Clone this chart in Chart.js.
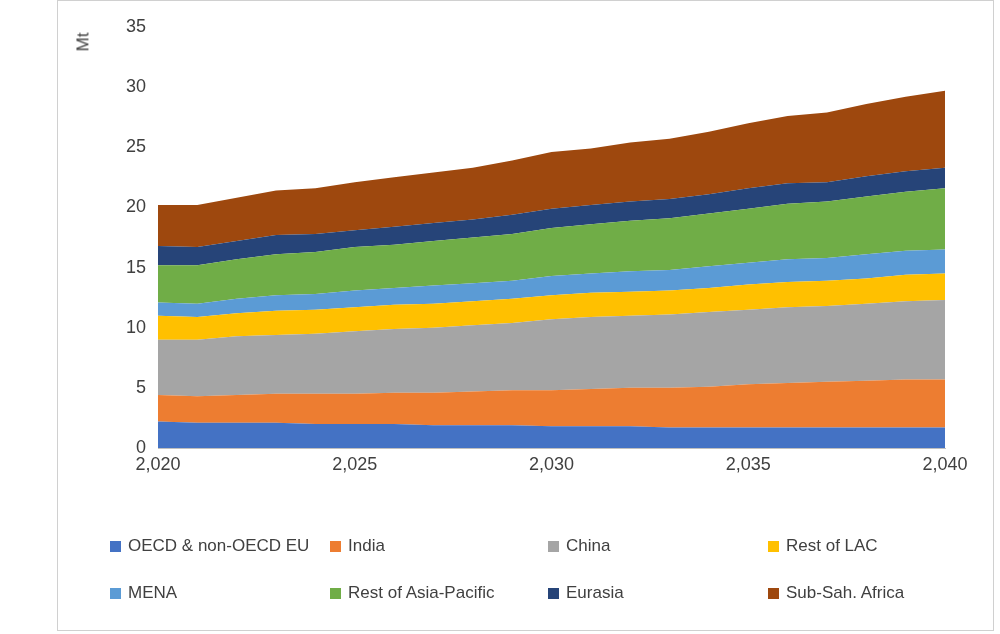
<!DOCTYPE html>
<html>
<head>
<meta charset="utf-8">
<script src="https://cdn.jsdelivr.net/npm/chart.js@4"></script>
<style>
  body { margin: 0; background: #fff; font-family: "Liberation Sans", Arial, sans-serif; }
  #wrap { position: relative; width: 1000px; height: 634px; }
  #frame { position: absolute; left: 57px; top: 0; width: 937px; height: 631px; border: 1px solid #d0d0d0; box-sizing: border-box; }
  #unit { position: absolute; left: 74px; top: 32px; transform: rotate(-90deg); font-size: 17px; color: #404040; }
  .leg { position: absolute; font-size: 17px; color: #404040; display: flex; align-items: center; }
  .leg span { display: inline-block; width: 11px; height: 11px; margin-right: 7px; }
</style>
</head>
<body>
<div id="wrap">
  <div id="frame"></div>
  <canvas id="myChart" width="1000" height="634" style="position:absolute;left:0;top:0"></canvas>
  <div id="unit">Mt</div>
  <div id="legend"></div>
</div>
<script>
var years = [2020,2021,2022,2023,2024,2025,2026,2027,2028,2029,2030,2031,2032,2033,2034,2035,2036,2037,2038,2039,2040];
var names = ['OECD & non-OECD EU','India','China','Rest of LAC','MENA','Rest of Asia-Pacific','Eurasia','Sub-Sah. Africa'];
var colors = ['#4472C4','#ED7D31','#A5A5A5','#FFC000','#5B9BD5','#70AD47','#264478','#9E480E'];
var oecd    = [2.2,2.1,2.1,2.1,2.0,2.0,2.0,1.9,1.9,1.9,1.8,1.8,1.8,1.7,1.7,1.7,1.7,1.7,1.7,1.7,1.7];
var india   = [2.2,2.2,2.3,2.4,2.5,2.5,2.6,2.7,2.8,2.9,3.0,3.1,3.2,3.3,3.4,3.6,3.7,3.8,3.9,4.0,4.0];
var china   = [4.6,4.7,4.9,4.9,5.0,5.2,5.3,5.4,5.5,5.6,5.9,6.0,6.0,6.1,6.2,6.2,6.3,6.3,6.4,6.5,6.6];
var lac     = [2.0,1.9,1.9,2.0,2.0,2.0,2.0,2.0,2.0,2.0,2.0,2.0,2.0,2.0,2.0,2.1,2.1,2.1,2.1,2.2,2.2];
var mena    = [1.1,1.1,1.2,1.3,1.3,1.4,1.4,1.5,1.5,1.5,1.6,1.6,1.7,1.7,1.8,1.8,1.9,1.9,2.0,2.0,2.0];
var asiaPac = [3.1,3.2,3.3,3.4,3.5,3.6,3.6,3.7,3.8,3.9,4.0,4.1,4.2,4.3,4.4,4.5,4.6,4.7,4.8,4.9,5.1];
var eurasia = [1.6,1.5,1.5,1.6,1.5,1.4,1.5,1.5,1.5,1.6,1.6,1.6,1.6,1.6,1.6,1.7,1.7,1.6,1.7,1.7,1.7];
var ssa     = [3.4,3.5,3.6,3.7,3.8,4.0,4.1,4.2,4.3,4.5,4.7,4.7,4.9,5.0,5.2,5.4,5.6,5.8,6.0,6.2,6.4];
var series = [oecd, india, china, lac, mena, asiaPac, eurasia, ssa];

document.addEventListener('DOMContentLoaded', function() {
    var ctx = document.getElementById('myChart').getContext('2d');
    var datasets = series.map(function(s, i) {
        return {
            label: names[i],
            data: s.map(function(v, j) { return { x: years[j], y: v }; }),
            backgroundColor: colors[i],
            borderWidth: 0,
            pointRadius: 0,
            fill: i === 0 ? 'origin' : '-1'
        };
    });
    new Chart(ctx, {
        type: 'line',
        data: { datasets: datasets },
        options: {
            responsive: false,
            animation: false,
            layout: { padding: { top: 27, right: 55, left: 0, bottom: 0 } },
            plugins: { legend: { display: false }, tooltip: { enabled: false } },
            scales: {
                x: {
                    type: 'linear', min: 2020, max: 2040,
                    ticks: { stepSize: 5, color: '#404040', font: { size: 18, family: 'Liberation Sans' }, padding: 6 },
                    grid: { display: false, drawTicks: false },
                    border: { color: '#bfbfbf' },
                    afterFit: function(s) { s.height = 634 - 448; }
                },
                y: {
                    stacked: true, min: 0, max: 35,
                    ticks: { stepSize: 5, color: '#404040', font: { size: 18, family: 'Liberation Sans' }, padding: 12 },
                    grid: { display: false, drawTicks: false },
                    border: { display: false },
                    afterFit: function(s) { s.width = 158; }
                }
            }
        }
    });

    var legend = document.getElementById('legend');
    var cols = [110, 330, 548, 768];
    names.forEach(function(n, i) {
        var d = document.createElement('div');
        d.className = 'leg';
        d.style.left = cols[i % 4] + 'px';
        d.style.top = (i < 4 ? 536 : 583) + 'px';
        d.innerHTML = '<span style="background:' + colors[i] + '"></span>' + n;
        legend.appendChild(d);
    });
});
</script>
</body>
</html>
